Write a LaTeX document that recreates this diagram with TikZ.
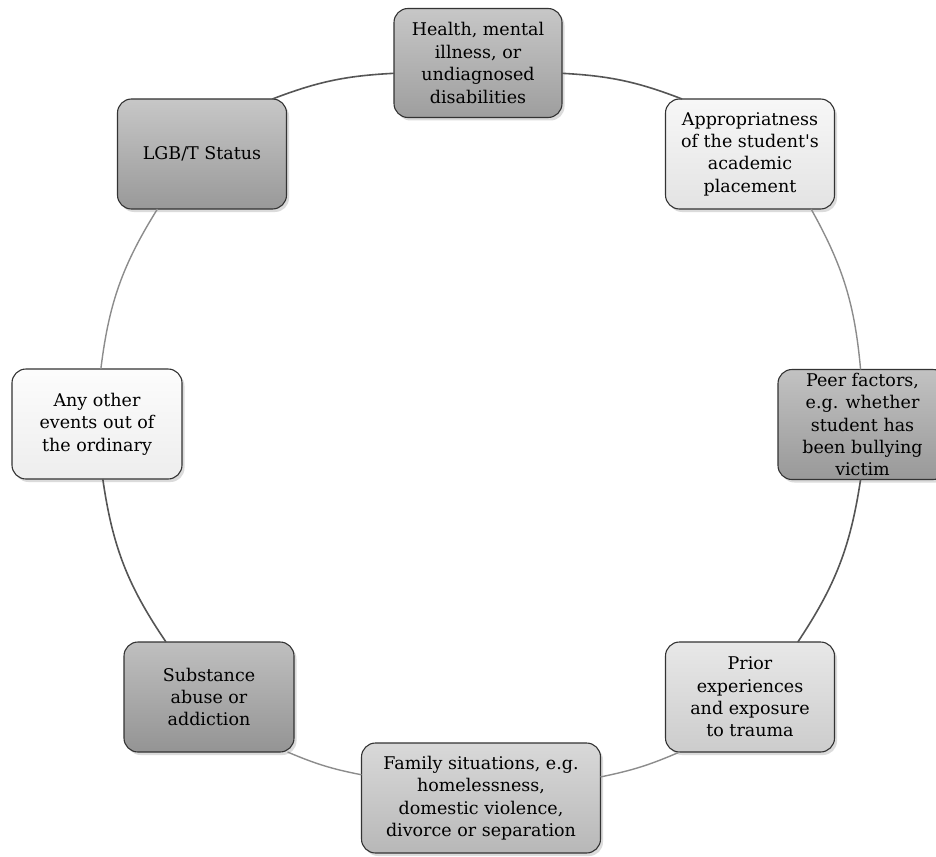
\documentclass[tikz,border=0pt]{standalone}
\usepackage{fontspec}
\setmainfont{DejaVu Serif}[Ligatures=TeXOff]
\usetikzlibrary{shadows}
\definecolor{linkc}{HTML}{555555}
\begin{document}
\begin{tikzpicture}[x=1pt,y=1pt,
  box/.style={draw=black!80, line width=1.1pt, rounded corners=14pt, align=center,
    inner sep=0pt, outer sep=0pt, minimum width=169pt, minimum height=110pt,
    font=\fontsize{17.5}{22.4}\selectfont,
    drop shadow={shadow xshift=2.5pt, shadow yshift=-3pt, opacity=0.28}},
  link/.style={line width=1.6pt, draw=linkc},
  linklight/.style={line width=1.4pt, draw=black!45}]
\fill[white] (0,0) rectangle (936,-856);
\useasboundingbox (0,0) rectangle (936,-856);

\node[box, minimum width=168pt, minimum height=109pt, top color=black!22, bottom color=black!38] (health) at (478,-63)
  {Health, mental\\illness, or\\undiagnosed\\disabilities};
\node[box, top color=black!3, bottom color=black!11] (approp) at (750,-154)
  {Appropriatness\\of the student's\\academic\\placement};
\node[box, top color=black!24, bottom color=black!40] (peer) at (862.5,-424.5)
  {Peer factors,\\e.g. whether\\student has\\been bullying\\victim};
\node[box, top color=black!9, bottom color=black!20] (prior) at (750,-697)
  {Prior\\experiences\\and exposure\\to trauma};
\node[box, minimum width=239pt, top color=black!15, bottom color=black!28] (family) at (481,-798)
  {Family situations, e.g.\\homelessness,\\domestic violence,\\divorce or separation};
\node[box, minimum width=170pt, top color=black!25, bottom color=black!42] (substance) at (209,-697)
  {Substance\\abuse or\\addiction};
\node[box, minimum width=170pt, top color=black!1, bottom color=black!7] (anyother) at (97,-424)
  {Any other\\events out of\\the ordinary};
\node[box, top color=black!22, bottom color=black!40] (lgbt) at (202,-154)
  {LGB/T Status};

\draw[link] (lgbt.38) to[bend left=9] (health.187);
\draw[link] (health.-7) to[bend left=9] (approp.141);
\draw[linklight] (approp.-42) to[bend left=12] (peer.92);
\draw[link] (peer.268) to[bend left=12.5] (prior.49);
\draw[linklight] (prior.218) to[bend left=6] (family.10.5);
\draw[linklight] (family.169.5) to[bend left=6] (substance.-35);
\draw[link] (substance.128) to[bend left=13] (anyother.-84);
\draw[linklight] (anyother.86) to[bend left=12.5] (lgbt.231);
\end{tikzpicture}
\end{document}
